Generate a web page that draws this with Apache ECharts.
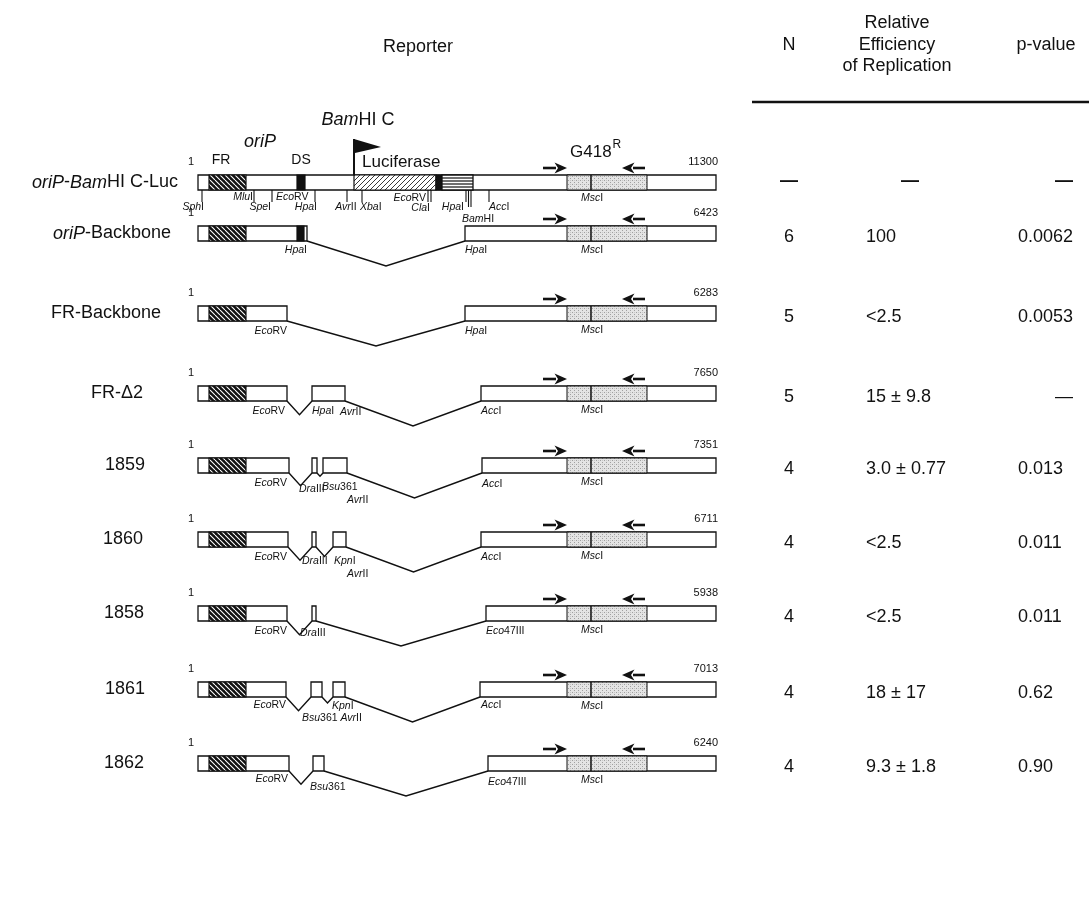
<!DOCTYPE html>
<html><head><meta charset="utf-8">
<script src="https://cdn.jsdelivr.net/npm/echarts/dist/echarts.min.js"></script>
<style>html,body{margin:0;padding:0;background:#fff}#c{width:1089px;height:899px}</style>
</head><body><div id="c"></div>
<script>
// ---------------- DATA ----------------
// construct names (*...* = italic)
const constructs = ['*oriP*-*Bam*HI C-Luc', '*oriP*-Backbone', 'FR-Backbone', 'FR-\u03942', '1859', '1860', '1858', '1861', '1862'];
const sizes = ['11300', '6423', '6283', '7650', '7351', '6711', '5938', '7013', '6240'];
const nValues = ['\u2014', '6', '5', '5', '4', '4', '4', '4', '4'];
const efficiency = ['\u2014', '100', '<2.5', '15 \u00b1 9.8', '3.0 \u00b1 0.77', '<2.5', '<2.5', '18 \u00b1 17', '9.3 \u00b1 1.8'];
const pValues = ['\u2014', '0.0062', '0.0053', '\u2014', '0.013', '0.011', '0.011', '0.62', '0.90'];
const headers = ['Reporter', 'N', 'Relative', 'Efficiency', 'of Replication', 'p-value'];

// retained fragments of each construct, in map units along the drawn axis
const fragments = [
  [[198, 716]],
  [[198, 307], [465, 716]],
  [[198, 287], [465, 716]],
  [[198, 287], [312, 345], [481, 716]],
  [[198, 289], [312, 317], [323, 347], [482, 716]],
  [[198, 288], [312, 316], [333, 346], [481, 716]],
  [[198, 287], [312, 316], [486, 716]],
  [[198, 286], [311, 322], [333, 345], [480, 716]],
  [[198, 289], [313, 324], [488, 716]]
];
// features: [row, start, end, kind]
const features = [
  [0, 209, 246, 'fr'], [0, 297, 305, 'ds'], [0, 354, 436, 'luc'], [0, 436, 442, 'ds'], [0, 442, 473, 'stripe'],
  [1, 209, 246, 'fr'], [1, 297, 304, 'ds'],
  [2, 209, 246, 'fr'], [3, 209, 246, 'fr'], [4, 209, 246, 'fr'], [5, 209, 246, 'fr'],
  [6, 209, 246, 'fr'], [7, 209, 246, 'fr'], [8, 209, 246, 'fr']
];
const g418 = [567, 591, 647];           // neo region start, MscI, end
const primers = [[543, 567], [645, 622]]; // [tail, tip]
const promoter = 354;
// restriction sites: [row, name, anchor, align, level offset, ticks]
const sites = [
  [0, '*Sph*I', 204, 'right', 17, [202]],
  [0, '*Mlu*I', 253, 'right', 7, [254]],
  [0, '*Spe*I', 271, 'right', 17, [272]],
  [0, '*Eco*RV', 276, 'left', 7, []],
  [0, '*Hpa*I', 317, 'right', 17, [315]],
  [0, '*Avr*II', 346, 'center', 17, [347]],
  [0, '*Xba*I', 360, 'left', 17, [362]],
  [0, '*Eco*RV', 426, 'right', 8, [428]],
  [0, '*Cla*I', 430, 'right', 18, [431]],
  [0, '*Hpa*I', 464, 'right', 17, [466]],
  [0, '*Bam*HI', 478, 'center', 29, [468.5, 471]],
  [0, '*Acc*I', 489, 'left', 17, [489]],
  [0, '*Msc*I', 592, 'center', 8, []],
  [1, '*Hpa*I', 307, 'right', 9, []], [1, '*Hpa*I', 465, 'left', 9, []], [1, '*Msc*I', 592, 'center', 9, []],
  [2, '*Eco*RV', 287, 'right', 10, []], [2, '*Hpa*I', 465, 'left', 10, []], [2, '*Msc*I', 592, 'center', 9, []],
  [3, '*Eco*RV', 285, 'right', 10, []], [3, '*Hpa*I', 312, 'left', 10, []], [3, '*Avr*II', 340, 'left', 11, []],
  [3, '*Acc*I', 481, 'left', 10, []], [3, '*Msc*I', 592, 'center', 9, []],
  [4, '*Eco*RV', 287, 'right', 10, []], [4, '*Dra*III', 299, 'left', 16, []], [4, '*Bsu*361', 322, 'left', 14, []],
  [4, '*Avr*II', 347, 'left', 27, []], [4, '*Acc*I', 482, 'left', 11, []], [4, '*Msc*I', 592, 'center', 9, []],
  [5, '*Eco*RV', 287, 'right', 10, []], [5, '*Dra*III', 302, 'left', 14, []], [5, '*Kpn*I', 334, 'left', 14, []],
  [5, '*Avr*II', 347, 'left', 27, []], [5, '*Acc*I', 481, 'left', 10, []], [5, '*Msc*I', 592, 'center', 9, []],
  [6, '*Eco*RV', 287, 'right', 10, []], [6, '*Dra*III', 300, 'left', 12, []], [6, '*Eco*47III', 486, 'left', 10, []],
  [6, '*Msc*I', 592, 'center', 9, []],
  [7, '*Eco*RV', 286, 'right', 8, []], [7, '*Kpn*I', 332, 'left', 9, []], [7, '*Bsu*361 *Avr*II', 302, 'left', 21, []],
  [7, '*Acc*I', 481, 'left', 8, []], [7, '*Msc*I', 592, 'center', 9, []],
  [8, '*Eco*RV', 288, 'right', 8, []], [8, '*Bsu*361', 310, 'left', 16, []], [8, '*Eco*47III', 488, 'left', 11, []],
  [8, '*Msc*I', 592, 'center', 9, []]
];

// ---------------- LAYOUT ----------------
const rowTop = [175, 226, 306, 386, 458, 532, 606, 682, 756];
const BOX_H = 15;
const labelX = [178, 112, 106, 117, 125, 123, 124, 125, 124];
const FONT = '"Liberation Sans", Arial, Helvetica, sans-serif';
const INK = '#111';
const SITE_SIZE = 10.5;

// ---------------- helpers ----------------
const mctx = document.createElement('canvas').getContext('2d');
function fontOf(size, it, bold) { return (it ? 'italic ' : '') + (bold ? 'bold ' : '') + size + 'px ' + FONT; }
function richText(x, y, str, size, align, bold) {
  const parts = str.split('*').map((t, i) => ({ t, it: i % 2 === 1 })).filter(p => p.t.length);
  const w = parts.map(p => { mctx.font = fontOf(size, p.it, bold); return mctx.measureText(p.t).width; });
  const tot = w.reduce((a, b) => a + b, 0);
  let cx = align === 'right' ? x - tot : align === 'center' ? x - tot / 2 : x;
  return parts.map((p, i) => {
    const el = { type: 'text', x: cx, y: y, style: { text: p.t, font: fontOf(size, p.it, bold), fill: INK,
      textAlign: 'left', textVerticalAlign: 'middle', align: 'left', verticalAlign: 'middle' } };
    cx += w[i];
    return el;
  });
}
function makePattern(kind) {
  const c = document.createElement('canvas');
  const s = kind === 'gray' ? 4 : 5;
  c.width = s; c.height = s;
  const g = c.getContext('2d');
  if (kind === 'fr') {
    g.fillStyle = '#111'; g.fillRect(0, 0, s, s);
    g.strokeStyle = '#fff'; g.lineWidth = 1.1;
    for (const o of [-s, 0, s]) { g.beginPath(); g.moveTo(o, 0); g.lineTo(o + s, s); g.stroke(); }
  } else if (kind === 'luc') {
    g.fillStyle = '#fff'; g.fillRect(0, 0, s, s);
    g.strokeStyle = '#222'; g.lineWidth = 0.9;
    for (const o of [-s, 0, s]) { g.beginPath(); g.moveTo(o, s); g.lineTo(o + s, 0); g.stroke(); }
  } else {
    g.fillStyle = '#e4e4e4'; g.fillRect(0, 0, s, s);
    g.fillStyle = '#a0a0a0'; g.fillRect(0, 0, 1, 1); g.fillRect(2, 2, 1, 1);
    g.fillStyle = '#c8c8c8'; g.fillRect(2, 0, 1, 1);
  }
  return { image: c, repeat: 'repeat' };
}
const PAT = { fr: makePattern('fr'), luc: makePattern('luc'), gray: makePattern('gray') };

// ---------------- series data ----------------
const fragData = [];
fragments.forEach((fs, r) => fs.forEach(f => fragData.push([f[0], f[1], r])));
const joinData = [];
fragments.forEach((fs, r) => { for (let i = 1; i < fs.length; i++) joinData.push([fs[i - 1][1], fs[i][0], r]); });
const rowData = constructs.map((c, r) => [198, rowTop[r], r]);

function rectOf(api, x1, x2, y1, y2) {
  const a = api.coord([x1, y1]), b = api.coord([x2, y2]);
  return { x: a[0], y: a[1], width: b[0] - a[0], height: b[1] - a[1] };
}

const series = [
  { // connecting deletion lines
    type: 'custom', name: 'deletions', z: 1, data: joinData,
    renderItem: (p, api) => {
      const x1 = api.value(0), x2 = api.value(1), r = api.value(2);
      const yb = rowTop[r] + BOX_H;
      const depth = Math.min(25, (x2 - x1) * 0.55);
      return { type: 'polyline', shape: { points: [api.coord([x1, yb]), api.coord([(x1 + x2) / 2, yb + depth]), api.coord([x2, yb])] },
        style: { stroke: INK, lineWidth: 1.4, fill: null } };
    }
  },
  { // fragments
    type: 'custom', name: 'fragments', z: 2, data: fragData,
    renderItem: (p, api) => {
      const x1 = api.value(0), x2 = api.value(1), r = api.value(2);
      const children = [{ type: 'rect', shape: rectOf(api, x1, x2, rowTop[r], rowTop[r] + BOX_H), style: { fill: '#fff', stroke: INK, lineWidth: 1.3 } }];
      if (x1 <= g418[0] && x2 >= g418[2]) {
        children.push({ type: 'rect', shape: rectOf(api, g418[0], g418[2], rowTop[r], rowTop[r] + BOX_H), style: { fill: PAT.gray, stroke: INK, lineWidth: 1 } });
        const m1 = api.coord([g418[1], rowTop[r]]), m2 = api.coord([g418[1], rowTop[r] + BOX_H]);
        children.push({ type: 'line', shape: { x1: m1[0], y1: m1[1], x2: m2[0], y2: m2[1] }, style: { stroke: INK, lineWidth: 1.5 } });
      }
      return { type: 'group', children };
    }
  },
  { // features inside boxes
    type: 'custom', name: 'features', z: 3, data: features.map(f => [f[1], f[2], f[0]]),
    renderItem: (p, api) => {
      const f = features[p.dataIndex];
      const r = f[0], y1 = rowTop[r], y2 = rowTop[r] + BOX_H;
      const sh = rectOf(api, f[1], f[2], y1, y2);
      if (f[3] === 'stripe') {
        const ch = [{ type: 'rect', shape: sh, style: { fill: '#fff', stroke: INK, lineWidth: 1.3 } }];
        for (let k = 1; k <= 4; k++) {
          const yy = sh.y + sh.height * k / 5;
          ch.push({ type: 'line', shape: { x1: sh.x, y1: yy, x2: sh.x + sh.width, y2: yy }, style: { stroke: INK, lineWidth: 1.2 } });
        }
        return { type: 'group', children: ch };
      }
      const fill = f[3] === 'ds' ? INK : PAT[f[3]];
      return { type: 'rect', shape: sh, style: { fill, stroke: INK, lineWidth: 1.2 } };
    }
  },
  { // restriction sites
    type: 'custom', name: 'sites', z: 4, data: sites.map(s => [s[2], rowTop[s[0]], s[0]]),
    renderItem: (p, api) => {
      const s = sites[p.dataIndex];
      const yb = rowTop[s[0]] + BOX_H;
      const children = [];
      s[5].forEach(tx => {
        const len = s[1].indexOf('Bam') >= 0 ? 17 : 12;
        const a = api.coord([tx, yb]), b = api.coord([tx, yb + len]);
        children.push({ type: 'line', shape: { x1: a[0], y1: a[1], x2: b[0], y2: b[1] }, style: { stroke: INK, lineWidth: 1.1 } });
      });
      const pt = api.coord([s[2], yb + s[4]]);
      children.push(...richText(pt[0], pt[1], s[1], SITE_SIZE, s[3]));
      return { type: 'group', children };
    }
  },
  { // per-row annotations: names, numbers, primers, values
    type: 'custom', name: 'rows', z: 5, data: rowData,
    renderItem: (p, api) => {
      const r = p.dataIndex;
      const top = rowTop[r], mid = top + BOX_H / 2;
      const ch = [];
      const lp = api.coord([labelX[r], mid]);
      ch.push(...richText(lp[0], lp[1], constructs[r], 18, r === 0 ? 'right' : 'center'));
      const one = api.coord([191, top - 13]);
      ch.push(...richText(one[0], one[1], '1', 11, 'center'));
      const sz = api.coord([fragments[r][fragments[r].length - 1][1] + 2, top - 13]);
      ch.push(...richText(sz[0], sz[1], sizes[r], 11, 'right'));
      // primer arrows
      primers.forEach(pr => {
        const dir = Math.sign(pr[1] - pr[0]);
        const t = api.coord([pr[0], top - 7]), tip = api.coord([pr[1], top - 7]);
        const hb = tip[0] - dir * 11;
        ch.push({ type: 'line', shape: { x1: t[0], y1: t[1], x2: hb, y2: t[1] }, style: { stroke: INK, lineWidth: 2.6 } });
        ch.push({ type: 'polygon', shape: { points: [[tip[0], tip[1]], [hb - dir * 1.5, tip[1] - 5.5], [hb + dir * 2, tip[1]], [hb - dir * 1.5, tip[1] + 5.5]] }, style: { fill: INK } });
      });
      // table values
      const vy = r === 0 ? mid - 1 : mid + 4;
      const bold = r === 0;
      const dash = v => v === '\u2014';
      let q = api.coord([789, vy]); ch.push(...richText(q[0], q[1], nValues[r], 18, 'center', bold));
      q = api.coord([dash(efficiency[r]) ? 910 : 866, vy]); ch.push(...richText(q[0], q[1], efficiency[r], 18, dash(efficiency[r]) ? 'center' : 'left', bold));
      q = api.coord([dash(pValues[r]) ? 1064 : 1018, vy]); ch.push(...richText(q[0], q[1], pValues[r], 18, dash(pValues[r]) ? 'center' : 'left', bold));
      return { type: 'group', children: ch };
    }
  },
  { // reporter (row 0) element annotations
    type: 'custom', name: 'elements', z: 6, data: [[promoter, rowTop[0], 0]],
    renderItem: (p, api) => {
      const top = rowTop[0];
      const ch = [];
      const base = api.coord([promoter, top]), up = api.coord([promoter, top - 36]);
      ch.push({ type: 'line', shape: { x1: base[0], y1: base[1], x2: up[0], y2: up[1] }, style: { stroke: INK, lineWidth: 2 } });
      ch.push({ type: 'polygon', shape: { points: [[up[0], up[1]], [up[0] + 27, up[1] + 8], [up[0] + 1, up[1] + 14]] }, style: { fill: INK } });
      let q = api.coord([358, top - 55]); ch.push(...richText(q[0], q[1], '*Bam*HI C', 18, 'center'));
      q = api.coord([260, top - 33]); ch.push(...richText(q[0], q[1], '*oriP*', 18, 'center'));
      q = api.coord([221, top - 15]); ch.push(...richText(q[0], q[1], 'FR', 14, 'center'));
      q = api.coord([301, top - 15]); ch.push(...richText(q[0], q[1], 'DS', 14, 'center'));
      q = api.coord([362, top - 13]); ch.push(...richText(q[0], q[1], 'Luciferase', 17, 'left'));
      q = api.coord([570, top - 23]); ch.push(...richText(q[0], q[1], 'G418', 17, 'left'));
      mctx.font = fontOf(17); const gw = mctx.measureText('G418').width;
      ch.push(...richText(q[0] + gw + 1, q[1] - 7, 'R', 12, 'left'));
      return { type: 'group', children: ch };
    }
  },
  { // column headers and rule
    type: 'custom', name: 'headers', z: 6, data: [[752, 101, 0]],
    renderItem: (p, api) => {
      const ch = [];
      let q = api.coord([418, 47]); ch.push(...richText(q[0], q[1], headers[0], 18, 'center'));
      q = api.coord([789, 45]); ch.push(...richText(q[0], q[1], headers[1], 18, 'center'));
      q = api.coord([897, 23]); ch.push(...richText(q[0], q[1], headers[2], 18, 'center'));
      q = api.coord([897, 45]); ch.push(...richText(q[0], q[1], headers[3], 18, 'center'));
      q = api.coord([897, 66]); ch.push(...richText(q[0], q[1], headers[4], 18, 'center'));
      q = api.coord([1046, 45]); ch.push(...richText(q[0], q[1], headers[5], 18, 'center'));
      const a = api.coord([752, 102]), b = api.coord([1089, 102]);
      ch.push({ type: 'line', shape: { x1: a[0], y1: a[1], x2: b[0], y2: b[1] }, style: { stroke: INK, lineWidth: 2.6 } });
      return { type: 'group', children: ch };
    }
  }
];

const chart = echarts.init(document.getElementById('c'), null, { renderer: 'canvas' });
chart.setOption({
  animation: false,
  backgroundColor: '#fff',
  grid: { left: 0, right: 0, top: 0, bottom: 0 },
  xAxis: { type: 'value', min: 0, max: 1089, show: false },
  yAxis: { type: 'value', min: 0, max: 899, inverse: true, show: false },
  series: series
});
</script>
</body></html>
